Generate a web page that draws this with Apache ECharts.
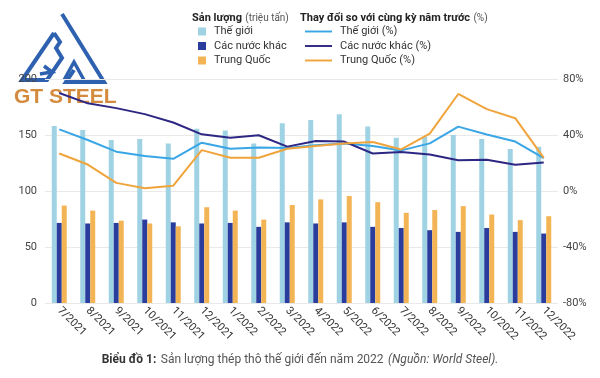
<!DOCTYPE html>
<html><head><meta charset="utf-8">
<script src="https://cdn.jsdelivr.net/npm/echarts@6/dist/echarts.min.js"></script>
<style>html,body{margin:0;padding:0;background:#fff}#c{width:600px;height:378px}</style>
</head><body><div id="c"></div>
<script>
const categories = ['7/2021','8/2021','9/2021','10/2021','11/2021','12/2021','1/2022','2/2022','3/2022','4/2022','5/2022','6/2022','7/2022','8/2022','9/2022','10/2022','11/2022','12/2022'];
const worldProd = [158,154.5,145.5,146.5,142.5,155.5,154,142.5,160.5,163.5,168.5,157.5,147.5,148.5,150,146.5,137.5,139.5];
const otherProd = [71.5,71,71.5,74.5,72,71,71.5,68,72,71,72,68,67,65,63.5,67,63.5,62];
const chinaProd = [87,82.5,73.5,71,68.5,85.5,82.5,74.5,87.5,92.5,95.5,90,80.5,83,86.5,79,74,77.5];
const worldPct = [44,36.4,28.1,25,23,34.5,30.2,31.1,30.7,32.6,34,32.1,29,34,46,40.3,35.3,23.5];
const otherPct = [70,62.6,59.2,54.9,48.9,40.5,38.1,39.8,31.7,35.7,35.3,26.8,27.8,26.1,22,22.3,18.7,20.4];
const chinaPct = [26.8,18.9,5.8,1.9,3.8,29.2,23.7,23.7,30.2,32.1,34,35,29.7,41,69.3,58.5,52,23.7];
const leftTicks = [0,50,100,150,200];
const rightTicks = [-80,-40,0,40,80];

const font = 'Roboto, "Noto Sans", sans-serif';
const chart = echarts.init(document.getElementById('c'), null, {renderer:'canvas'});
const barW = 5;
const lineIcon = 'path://M0,0 L28,0 L28,2 L0,2 Z';
chart.setOption({
  animation:false,
  textStyle:{fontFamily:font},
  grid:{left:45,right:42,top:79,bottom:75},
  legend:[
    {left:193,top:21,orient:'vertical',itemWidth:8,itemHeight:8,itemGap:3.5,icon:'rect',
     textStyle:{fontSize:11,color:'#333',fontFamily:font,padding:[0,0,0,3],lineHeight:10,height:10},
     data:['Thế giới','Các nước khác','Trung Quốc']},
    {left:300,top:21,orient:'vertical',itemWidth:27,itemHeight:2,itemGap:3.5,
     textStyle:{fontSize:11,color:'#333',fontFamily:font,padding:[0,0,0,3],height:10,lineHeight:10},
     data:[{name:'Thế giới (%)',icon:lineIcon},{name:'Các nước khác (%)',icon:lineIcon},{name:'Trung Quốc (%)',icon:lineIcon}]}
  ],
  title:{left:'center',top:346,text:'{b|Biểu đồ 1:} {n|Sản lượng thép thô thế giới đến năm 2022} {i|(Nguồn: World Steel).}',
    textStyle:{fontWeight:'normal',rich:{b:{fontWeight:'bold',fontSize:12,color:'#333',fontFamily:font},n:{fontWeight:'normal',fontSize:12,color:'#555',fontFamily:font},i:{fontWeight:'normal',fontStyle:'italic',fontSize:12,color:'#555',fontFamily:font}}}},
  xAxis:{type:'category',data:categories,
    axisLine:{show:false},axisTick:{show:false},
    axisLabel:{rotate:-45,fontSize:11,color:'#333',margin:6,interval:0,fontFamily:font}},
  yAxis:[
    {type:'value',min:leftTicks[0],max:leftTicks[leftTicks.length-1],interval:50,
     axisLabel:{fontSize:11,color:'#444',margin:8,fontFamily:font},
     splitLine:{lineStyle:{color:'#e9e9e9'}},axisLine:{show:false},axisTick:{show:false}},
    {type:'value',min:rightTicks[0],max:rightTicks[rightTicks.length-1],interval:40,
     axisLabel:{fontSize:11,color:'#444',margin:5,formatter:'{value}%',fontFamily:font},
     splitLine:{show:false},axisLine:{show:false},axisTick:{show:false}}
  ],
  series:[
    {name:'Thế giới',type:'bar',data:worldProd,barWidth:barW,barGap:'0%',itemStyle:{color:'#9fd2e3'}},
    {name:'Các nước khác',type:'bar',data:otherProd,barWidth:barW,barGap:'0%',itemStyle:{color:'#2b3d9c'}},
    {name:'Trung Quốc',type:'bar',data:chinaProd,barWidth:barW,barGap:'0%',itemStyle:{color:'#f3b455'}},
    {name:'Thế giới (%)',type:'line',yAxisIndex:1,data:worldPct,symbol:'none',lineStyle:{width:2,color:'#3aa6e6'},itemStyle:{color:'#3aa6e6'},z:5},
    {name:'Các nước khác (%)',type:'line',yAxisIndex:1,data:otherPct,symbol:'none',lineStyle:{width:2,color:'#2d2783'},itemStyle:{color:'#2d2783'},z:5},
    {name:'Trung Quốc (%)',type:'line',yAxisIndex:1,data:chinaPct,symbol:'none',lineStyle:{width:2,color:'#f0a43c'},itemStyle:{color:'#f0a43c'},z:5}
  ],
  graphic:[
    {type:'text',left:192,top:12,style:{text:'{b|Sản lượng} {n|(triệu tấn)}',rich:{b:{fontWeight:'bold',fontSize:11,fill:'#222',fontFamily:font},n:{fontSize:10,fill:'#555',fontFamily:font}}}},
    {type:'text',left:300,top:12,style:{text:'{b|Thay đổi so với cùng kỳ năm trước} {n|(%)}',rich:{b:{fontWeight:'bold',fontSize:11,fill:'#222',fontFamily:font},n:{fontSize:10,fill:'#555',fontFamily:font}}}},
    {type:'group',z:100,children:[
      {type:'polyline',shape:{points:[[62,14],[104,82],[66,82],[74,70]]},style:{stroke:'#2e62b0',lineWidth:4,fill:null}},
      {type:'polyline',shape:{points:[[54,33],[22,80],[47,80],[62,58],[56,48],[60,42],[54,33]]},style:{stroke:'#2e62b0',lineWidth:4,fill:null}},
      {type:'polyline',shape:{points:[[44,66],[52,72],[40,74]]},style:{stroke:'#2e62b0',lineWidth:3.5,fill:null}},
      {type:'polyline',shape:{points:[[64,80],[74,62],[84,80]]},style:{stroke:'#2e62b0',lineWidth:3.5,fill:null}},
      {type:'text',left:14,top:87,style:{text:'GT STEEL',font:'bold 21px "Liberation Sans", sans-serif',fill:'#d58b3e'}}
    ]}
  ]
});
</script></body></html>
